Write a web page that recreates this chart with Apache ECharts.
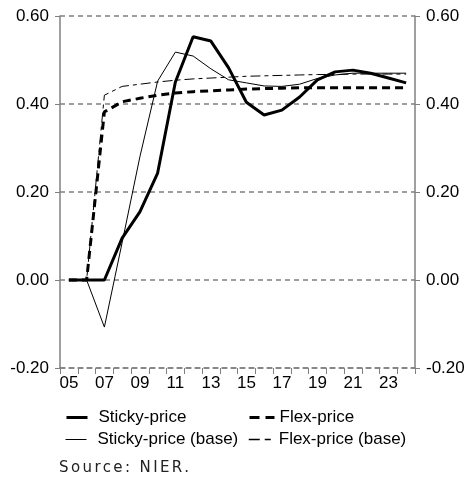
<!DOCTYPE html>
<html>
<head>
<meta charset="utf-8">
<script src="https://cdn.jsdelivr.net/npm/echarts@6/dist/echarts.min.js"></script>
<style>
html,body{margin:0;padding:0;background:#fff;}
#c{width:470px;height:479px;position:relative;}
#src{position:absolute;left:59px;top:458px;font-family:"DejaVu Sans";font-size:15px;letter-spacing:2.4px;color:#222;}
</style>
</head>
<body>
<div id="c"></div>
<div id="src">Source: NIER.</div>
<script>
var categories = ['05','06','07','08','09','10','11','12','13','14','15','16','17','18','19','20','21','22','23','24'];
var yTicks = [-0.2, 0, 0.2, 0.4, 0.6];
var sticky = [0,0,0,0.095,0.155,0.243,0.45,0.553,0.543,0.482,0.404,0.375,0.386,0.416,0.455,0.473,0.477,0.47,0.459,0.448];
var stickyBase = [0,0,-0.107,0.085,0.28,0.452,0.518,0.509,0.48,0.455,0.448,0.441,0.44,0.445,0.458,0.466,0.47,0.47,0.47,0.47];
var flex = [0,0,0.382,0.405,0.413,0.42,0.425,0.428,0.43,0.432,0.434,0.435,0.436,0.437,0.437,0.437,0.437,0.437,0.437,0.437];
var flexBase = [0,0,0.42,0.44,0.445,0.45,0.454,0.457,0.459,0.461,0.463,0.464,0.465,0.466,0.467,0.467,0.468,0.468,0.468,0.468];

var chart = echarts.init(document.getElementById('c'), null, {renderer:'canvas'});
var font = 'Liberation Sans';
var fs = 17;
function yAxis(pos){
  return {
    type:'value', position:pos, min:yTicks[0], max:yTicks[yTicks.length-1], interval:0.2,
    axisLine:{show:true, lineStyle:{color:'#808080', width:1.5}},
    axisTick:{show:true, length:5, lineStyle:{color:'#808080', width:1}},
    axisLabel:{color:'#000', fontFamily:font, fontSize:fs, margin:11, formatter:function(v){return v.toFixed(2);}},
    splitLine:{show: pos==='left', lineStyle:{color:'#808080', type:[5,4], width:1.5}}
  };
}
function leg(name, left, top, w, pad, ls){
  return {data:[{name:name}], left:left, top:top, itemWidth:w, itemHeight:14, itemGap:0, padding:0,
    itemStyle:{opacity:0}, lineStyle:ls,
    textStyle:{color:'#000', fontFamily:font, fontSize:fs, padding:[0,0,0,pad]}, selectedMode:false};
}
chart.setOption({
  animation:false,
  grid:{left:60, right:55, top:16, bottom:111, containLabel:false},
  xAxis:{type:'category', data:categories, boundaryGap:true,
    axisLine:{show:true, onZero:false, lineStyle:{color:'#808080', width:1.5, type:[5,4]}},
    axisTick:{show:true, interval:0, length:6, lineStyle:{color:'#808080'}},
    axisLabel:{interval:1, color:'#000', fontFamily:font, fontSize:fs, margin:7}},
  yAxis:[yAxis('left'), yAxis('right')],
  legend:[
    leg('Sticky-price',65,409,21,6,{color:'#000', width:3, type:'solid'}),
    leg('Flex-price',248,409,25,0,{color:'#000', width:3, type:[10,6]}),
    leg('Sticky-price (base)',65,431,21,6,{color:'#000', width:1, type:'solid'}),
    leg('Flex-price (base)',248,431,25,0,{color:'#000', width:1.5, type:[11,5,6,40]})
  ],
  series:[
    {name:'Sticky-price (base)', type:'line', data:stickyBase, symbol:'none', lineStyle:{color:'#000', width:1}, itemStyle:{color:'#000'}},
    {name:'Flex-price (base)', type:'line', data:flexBase, symbol:'none', lineStyle:{color:'#000', width:1, type:[10,4,4,4]}, itemStyle:{color:'#000'}},
    {name:'Flex-price', type:'line', data:flex, symbol:'none', lineStyle:{color:'#000', width:3, type:[8,5]}, itemStyle:{color:'#000'}},
    {name:'Sticky-price', type:'line', data:sticky, symbol:'none', lineStyle:{color:'#000', width:3}, itemStyle:{color:'#000'}}
  ]
});
</script>
</body>
</html>
